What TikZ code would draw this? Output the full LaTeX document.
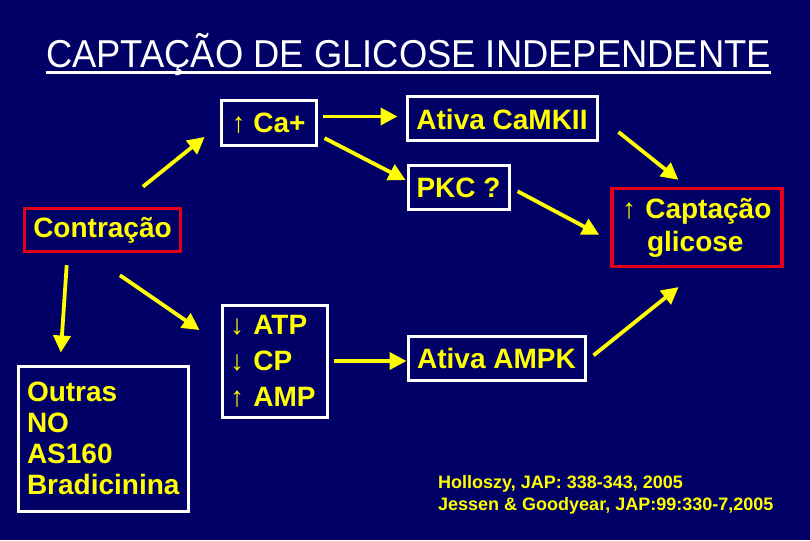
\documentclass[tikz,border=0pt]{standalone}
\usepackage{fontspec}
\setmainfont{Liberation Sans}
\usetikzlibrary{arrows.meta,calc}
\definecolor{bg}{RGB}{0,0,102}
\definecolor{yel}{RGB}{255,255,0}
\definecolor{boxred}{RGB}{228,0,24}
\newcommand\upar{{\mdseries ↑}}
\newcommand\dnar{{\mdseries ↓}}
\begin{document}
\begin{tikzpicture}[x=1pt,y=-1pt,
  box/.style={draw=white,line width=3pt,inner sep=0pt,text=yel,
    font=\fontsize{28}{30}\selectfont\bfseries},
  redbox/.style={box,draw=boxred,line width=3.5pt},
  arr/.style={draw=yel,line width=3.8pt,-{Triangle[length=17pt,width=17pt]}},
  ref/.style={text=yel,inner sep=0pt,anchor=base west,font=\fontsize{18}{22}\selectfont\bfseries}]
\fill[bg] (0,0) rectangle (810,540);
\useasboundingbox (0,0) rectangle (810,540);
% title
\node[text=white,inner sep=0pt,anchor=base,font=\fontsize{36}{40}\selectfont] (title) at (408.5,68) {\scalebox{1.01}[1.08]{CAPTAÇÃO DE GLICOSE INDEPENDENTE}};
\draw[white,line width=2.5pt] ([yshift=-4.5pt]title.base west) -- ([yshift=-4.5pt]title.base east);
% boxes
\node[box,minimum width=95pt,minimum height=45pt] (ca) at (268.5,123.5) {\upar\ Ca+};
\node[box,minimum width=190pt,minimum height=44pt] (camk) at (502,119) {Ativa CaMKII};
\node[box,minimum width=101pt,minimum height=43pt] (pkc) at (458.5,187.5) {PKC ?};
\node[redbox,minimum width=156pt,minimum height=43pt] (contr) at (102.5,230) {Contração};
\node[box,inner xsep=9pt,text width=152pt,align=left,minimum height=145pt,
  font=\fontsize{28}{31}\selectfont\bfseries] (outras) at (103,438.5) {Outras\\NO\\AS160\\Bradicinina};
\node[box,inner xsep=8pt,text width=89pt,align=left,minimum height=112pt,
  font=\fontsize{28}{36}\selectfont\bfseries] (atp) at (274.5,361) {\dnar\ ATP\\\dnar\ CP\\\upar\ AMP};
\node[box,minimum width=177pt,minimum height=44pt] (ampk) at (496.5,358) {Ativa AMPK};
\node[redbox,inner xsep=10pt,text width=150pt,align=left,minimum height=78pt,
  font=\fontsize{28}{33}\selectfont\bfseries] (capt) at (697,227.5) {\upar\ Captação\\\hspace*{25pt}glicose};
% references
\node[ref] (r1) at (438,488) {Holloszy, JAP: 338-343, 2005};
\node[ref] (r2) at (438,510) {Jessen \& Goodyear, JAP:99:330-7,2005};
% arrows
\draw[arr,shorten <=32pt,shorten >=19pt] ([xshift=15.5pt]contr.north) -- ([yshift=-1.5pt]ca.west);
\draw[arr,shorten <=5pt,shorten >=8pt] ([yshift=7pt]ca.east) -- ([yshift=7pt]ca.east -| camk.west);
\draw[arr,shorten <=8pt,shorten >=1pt] ([yshift=-11pt]ca.east) -- ([yshift=7pt]pkc.west);
\draw[arr,shorten <=8pt,shorten >=12.5pt] (pkc.east) -- ([yshift=-13pt]capt.west);
\draw[arr,shorten <=25.6pt,shorten >=11pt] ([yshift=3pt]camk.east) -- ([xshift=-10pt]capt.north);
\draw[arr,shorten <=9pt,shorten >=30pt] ([yshift=-3pt]ampk.east) -- ([xshift=5pt]capt.south);
\draw[arr,shorten <=12pt,shorten >=12pt] ([xshift=-35pt]contr.south) -- ([xshift=-43pt]outras.north);
\draw[arr,shorten <=38.8pt,shorten >=25.5pt] ([xshift=-14.5pt]contr.south) -- ([yshift=16.5pt]atp.west);
\draw[arr,shorten <=5pt] (atp.east) -- (atp.east -| ampk.west);
\end{tikzpicture}
\end{document}
